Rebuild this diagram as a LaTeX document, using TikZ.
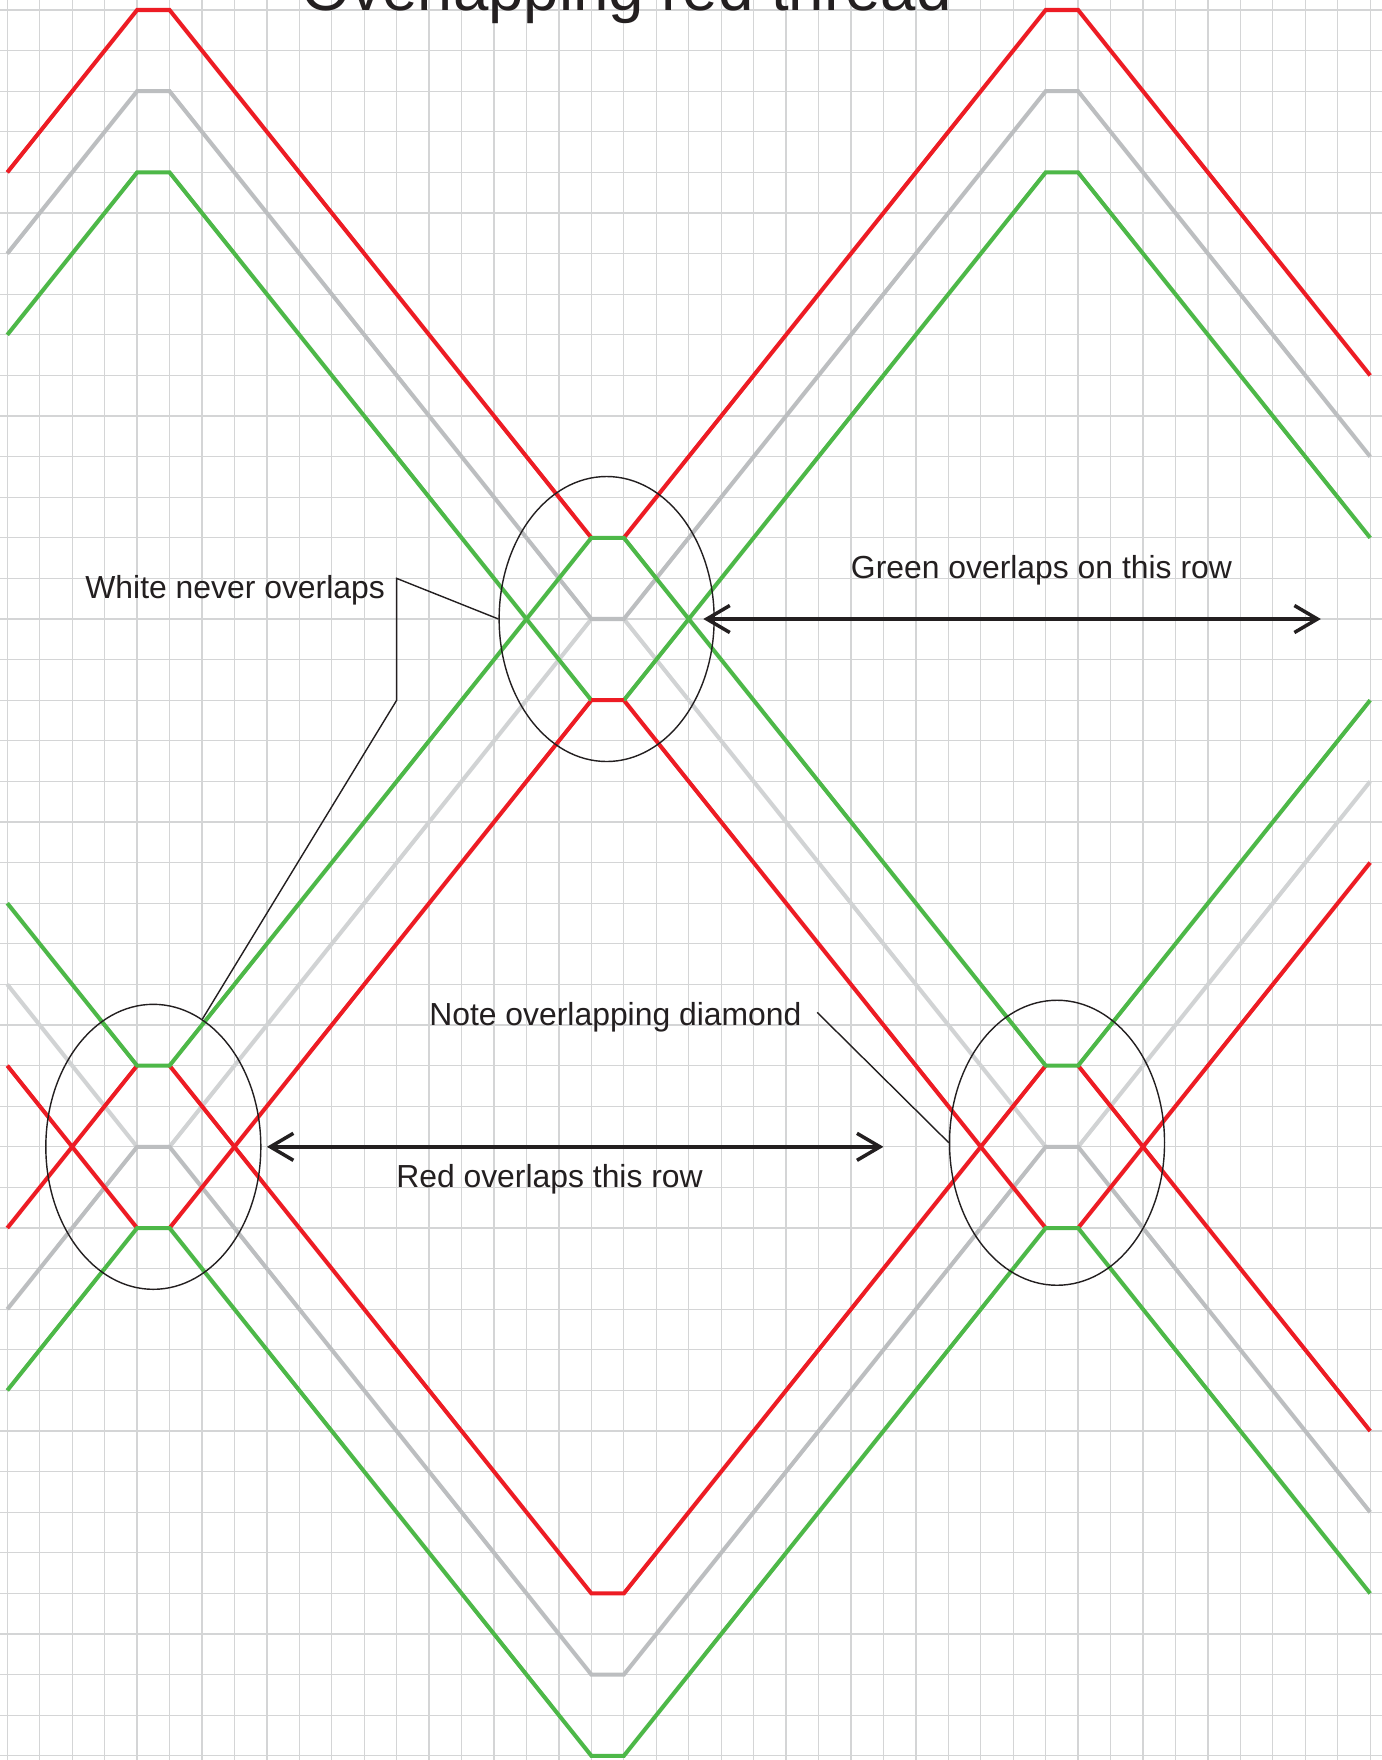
\documentclass[tikz,border=0pt]{standalone}
\usepackage{fontspec}
\setmainfont{Liberation Sans}
\usetikzlibrary{arrows.meta,shapes.geometric}

\definecolor{threadred}{HTML}{ED1C24}
\definecolor{threadgreen}{HTML}{4DB848}
\definecolor{threadgray}{HTML}{BCBEC0}
\definecolor{threadlight}{HTML}{D1D3D4}
\definecolor{gridgray}{HTML}{D4D5D6}
\definecolor{ink}{HTML}{231F20}

\begin{document}
\begin{tikzpicture}[x=0.3245cm, y=-0.406cm,
    gridline/.style={gridgray, line width=0.37pt},
    thread/.style={line width=1.15pt, line join=miter},
    ovalnode/.style={draw=ink, ellipse, line width=0.4pt, inner sep=0pt,
        minimum width=2.15cm, minimum height=2.85cm},
    leader/.style={draw=ink, line width=0.4pt},
    rowarrow/.style={ink, line width=1pt,
        {Straight Barb[length=2.3mm,width=2.7mm]}-{Straight Barb[length=2.3mm,width=2.7mm]}},
    lbl/.style={ink, anchor=base, inner sep=0pt, font=\fontsize{9.07}{11}\selectfont}]
    \useasboundingbox (-0.225,-0.246) rectangle (42.364,43.103);
    \clip (-0.225,-0.246) rectangle (42.364,43.103);
    \fill[white] (-0.225,-0.246) rectangle (42.364,43.103);

    % grid
    \foreach \c in {0,...,42} \draw[gridline] (\c,-0.3) -- (\c,43.2);
    \foreach \r in {0,...,43} \draw[gridline] (-0.3,\r) -- (42.4,\r);

    % white thread
    \draw[thread, threadlight] (0,24) -- (4,28) (5,28) -- (18,15) (19,15) -- (32,28) (33,28) -- (42,19);
    \draw[thread, threadgray] (0,6) -- (4,2) -- (5,2) -- (18,15) -- (19,15) -- (32,2) -- (33,2) -- (42,11);
    \draw[thread, threadgray] (0,32) -- (4,28) -- (5,28) -- (18,41) -- (19,41) -- (32,28) -- (33,28) -- (42,37);

    % red thread
    \draw[thread, threadred] (0,4) -- (4,0) -- (5,0) -- (18,13);
    \draw[thread, threadred] (19,13) -- (32,0) -- (33,0) -- (42,9);
    \draw[thread, threadred] (0,26) -- (4,30) (0,30) -- (4,26);
    \draw[thread, threadred] (5,26) -- (18,39) -- (19,39) -- (32,26);
    \draw[thread, threadred] (5,30) -- (18,17) -- (19,17) -- (32,30);
    \draw[thread, threadred] (33,26) -- (42,35) (33,30) -- (42,21);

    % green thread
    \draw[thread, threadgreen] (0,8) -- (4,4) -- (5,4) -- (18,17);
    \draw[thread, threadgreen] (19,17) -- (32,4) -- (33,4) -- (42,13);
    \draw[thread, threadgreen] (0,22) -- (4,26) -- (5,26) -- (18,13) -- (19,13) -- (32,26) -- (33,26) -- (42,17);
    \draw[thread, threadgreen] (0,34) -- (4,30) -- (5,30) -- (18,43) -- (19,43) -- (32,30) -- (33,30) -- (42,39);
    \draw[thread, threadred] (18,17) -- (19,17);

    % crossings
    \node[ovalnode] (cen) at (18.47,15) {};
    \node[ovalnode] (lft) at (4.5,28) {};
    \node[ovalnode] (rgt) at (32.35,27.9) {};

    % labels
    \node[lbl, font=\fontsize{18.1}{20}\selectfont] (title) at (19.08,0) {Overlapping red thread};
    \node[lbl] (whitelbl) at (7.02,14.5) {White never overlaps};
    \node[lbl] (greenlbl) at (31.87,14) {Green overlaps on this row};
    \node[lbl] (notelbl) at (18.74,25) {Note overlapping diamond};
    \node[lbl] (redlbl) at (16.71,29) {Red overlaps this row};

    % leaders
    \coordinate (wtop) at (12,14);
    \coordinate (wbend) at (12,17);
    \draw[leader] (cen.west) -- (wtop) -- (wbend) -- (lft.69);
    \coordinate (nstart) at (24.96,24.69);
    \draw[leader] (nstart) -- (rgt.west);

    % rows
    \coordinate (ga) at (21.45,15);
    \coordinate (gb) at (40.48,15);
    \draw[rowarrow] (ga) -- (gb);
    \coordinate (ra) at (8,28);
    \coordinate (rb) at (27,28);
    \draw[rowarrow] (ra) -- (rb);
\end{tikzpicture}
\end{document}
